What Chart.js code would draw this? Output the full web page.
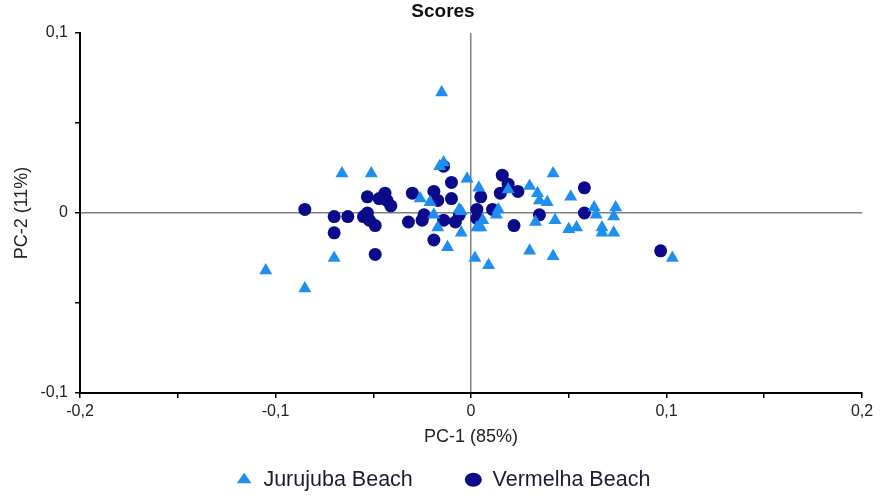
<!DOCTYPE html>
<html>
<head>
<meta charset="utf-8">
<title>Scores</title>
<script src="https://cdn.jsdelivr.net/npm/chart.js@4/dist/chart.umd.min.js"></script>
<style>
  html, body { margin: 0; padding: 0; background: #fff; }
  #wrap { width: 886px; height: 500px; }
</style>
</head>
<body>
<div id="wrap"><canvas id="scores"></canvas></div>
<script>
var seriesNames = ['Jurujuba Beach', 'Vermelha Beach'];

// PC-1 / PC-2 scores
var jurujubaX = [-0.105, -0.085, -0.070, -0.066, -0.051, -0.026, -0.021, -0.019, -0.017, -0.016,
                 -0.014, -0.015, -0.012, -0.006, -0.005, -0.005, -0.002, 0.002, 0.003, 0.004,
                 0.005, 0.006, 0.009, 0.013, 0.014, 0.019, 0.030, 0.030, 0.033, 0.034,
                 0.035, 0.039, 0.042, 0.042, 0.043, 0.050, 0.051, 0.054, 0.063, 0.064,
                 0.067, 0.067, 0.073, 0.074, 0.073, 0.103];
var jurujubaY = [-0.032, -0.042, -0.025, 0.022, 0.022, 0.008, 0.006, -0.001, -0.008, 0.026,
                 0.028, 0.067, -0.019, 0.002, -0.011, 0.001, 0.019, -0.025, -0.008, 0.014,
                 -0.008, -0.004, -0.029, -0.001, 0.002, 0.013, 0.015, -0.021, -0.005, 0.011,
                 0.007, 0.006, 0.022, -0.024, -0.004, -0.009, 0.009, -0.008, 0.003, -0.001,
                 -0.008, -0.011, -0.002, 0.003, -0.011, -0.025];

var vermelhaX = [-0.085, -0.070, -0.070, -0.063, -0.055, -0.053, -0.052, -0.049, -0.049, -0.053,
                 -0.047, -0.044, -0.043, -0.041, -0.030, -0.032, -0.025, -0.024, -0.019, -0.017,
                 -0.010, -0.010, -0.019, -0.014, -0.008, -0.014, 0.003, 0.005, -0.006, 0.016,
                 0.019, 0.015, 0.024, 0.058, 0.011, 0.003, 0.035, 0.058, 0.022, 0.097];
var vermelhaY = [0.002, -0.002, -0.011, -0.002, -0.002, 0.000, -0.004, -0.007, -0.023, 0.009,
                 0.008, 0.011, 0.007, 0.004, 0.011, -0.005, -0.004, -0.001, 0.012, 0.007,
                 0.017, 0.008, -0.015, -0.004, -0.005, 0.026, 0.002, 0.009, -0.001, 0.021,
                 0.016, 0.011, 0.012, 0.014, 0.002, -0.003, -0.001, 0.000, -0.007, -0.021];

var xTicks = [-0.2, -0.1, 0, 0.1, 0.2];
var yTicks = [-0.1, 0, 0.1];

var FONT = '"Liberation Sans", Arial, sans-serif';

var toPoints = function (xs, ys) {
    var pts = [];
    for (var i = 0; i < xs.length; ++i) {
        pts.push({ x: xs[i], y: ys[i] });
    }
    return pts;
};

// label only the 0.1 steps, comma decimals
var tickLabel = function (list) {
    return function (value) {
        for (var i = 0; i < list.length; ++i) {
            if (Math.abs(list[i] - value) < 1e-9) {
                return Math.abs(value) < 1e-9 ? '0' : value.toFixed(1).replace('.', ',');
            }
        }
        return '';
    };
};

var zeroLine = function (ctx) {
    return ctx.tick && Math.abs(ctx.tick.value) < 1e-9 ? '#808080' : 'rgba(0,0,0,0)';
};

// legend items sit wide apart (big padding); pull the box top back up
// so the row lands under the axis title. bottom stays put (legend clips to its box)
var legendShift = {
    id: 'legendShift',
    afterLayout: function (chart) {
        chart.legend.top -= 36;
    }
};

var ctx = document.getElementById('scores');
var chart = new Chart(ctx, {
    type: 'scatter',
    data: {
        datasets: [{
            label: seriesNames[0],
            data: toPoints(jurujubaX, jurujubaY),
            pointStyle: 'triangle',
            pointRadius: 7.5,
            backgroundColor: '#1e8ff0',
            borderColor: '#1e8ff0',
            borderWidth: 0
        }, {
            label: seriesNames[1],
            data: toPoints(vermelhaX, vermelhaY),
            pointStyle: 'circle',
            pointRadius: 6.5,
            backgroundColor: '#0a0a8a',
            borderColor: '#0a0a8a',
            borderWidth: 0
        }]
    },
    options: {
        responsive: true,
        maintainAspectRatio: false,
        animation: false,
        events: [],
        // symmetric side padding keeps title and legend centred on the page
        layout: { padding: { left: 24, right: 24, top: 0, bottom: 0 } },
        plugins: {
            title: {
                display: true,
                text: 'Scores',
                color: '#111',
                font: { family: FONT, size: 19, weight: 'bold' },
                padding: { top: 0, bottom: 10.2 }
            },
            legend: {
                position: 'bottom',
                maxHeight: 47,
                labels: {
                    usePointStyle: true,
                    boxHeight: 10,
                    pointStyleWidth: 17,
                    padding: 52,
                    color: '#1c1c30',
                    font: { family: FONT, size: 21.5 }
                }
            },
            tooltip: { enabled: false }
        },
        scales: {
            x: {
                type: 'linear',
                min: -0.2,
                max: 0.2,
                afterFit: function (s) { s.height = 60; },
                ticks: {
                    stepSize: 0.05,
                    autoSkip: false,
                    maxRotation: 0,
                    padding: 4,
                    color: '#222',
                    font: { family: FONT, size: 16 },
                    callback: tickLabel(xTicks)
                },
                grid: {
                    drawOnChartArea: true,
                    color: zeroLine,
                    lineWidth: 1.5,
                    tickColor: '#000',
                    tickLength: 5,
                    tickWidth: 1.5
                },
                border: { color: '#000', width: 2 },
                title: {
                    display: true,
                    text: 'PC-1 (85%)',
                    color: '#222',
                    font: { family: FONT, size: 18 },
                    padding: { top: 0, bottom: 5 }
                }
            },
            y: {
                type: 'linear',
                min: -0.1,
                max: 0.1,
                afterFit: function (s) { s.width = 56; },
                ticks: {
                    stepSize: 0.05,
                    autoSkip: false,
                    padding: 7,
                    color: '#222',
                    font: { family: FONT, size: 16 },
                    callback: tickLabel(yTicks)
                },
                grid: {
                    drawOnChartArea: true,
                    color: zeroLine,
                    lineWidth: 1.5,
                    tickColor: '#000',
                    tickLength: 5,
                    tickWidth: 1.5
                },
                border: { color: '#000', width: 2 },
                title: {
                    display: true,
                    text: 'PC-2 (11%)',
                    color: '#222',
                    font: { family: FONT, size: 18 },
                    // axis box starts at x=24; pull the title out to the page edge
                    padding: { top: -13, bottom: 0 }
                }
            }
        }
    },
    plugins: [legendShift]
});
</script>
</body>
</html>
